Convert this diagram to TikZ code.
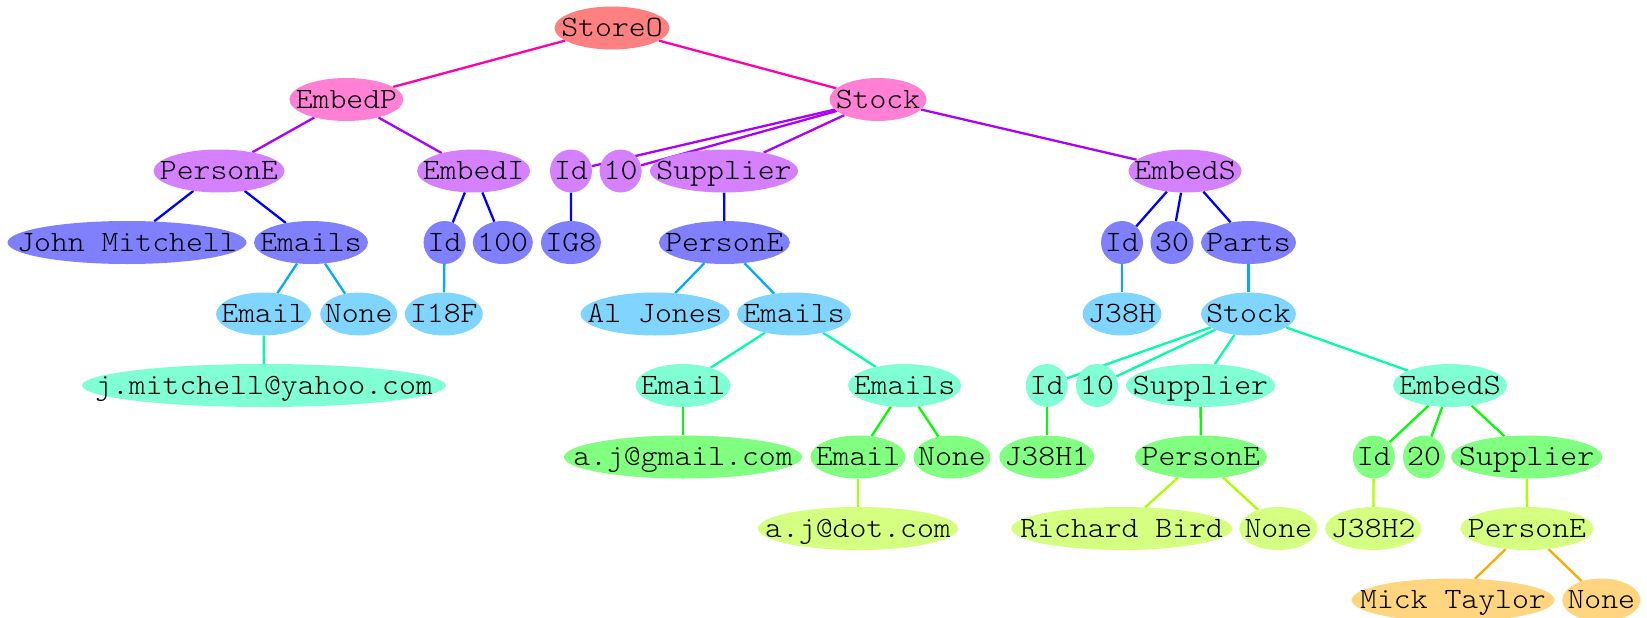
\documentclass[tikz,border=0pt]{standalone}
\usepackage{fontspec}
\newfontfamily\ndfont[FakeStretch=1.09]{Latin Modern Mono Light}
\usetikzlibrary{shapes.geometric}

% node fills, one per depth
\definecolor{c0}{HTML}{FF8080}
\definecolor{c1}{HTML}{FF80D5}
\definecolor{c2}{HTML}{D580FF}
\definecolor{c3}{HTML}{8080FF}
\definecolor{c4}{HTML}{80D5FF}
\definecolor{c5}{HTML}{80FFD5}
\definecolor{c6}{HTML}{80FF80}
\definecolor{c7}{HTML}{D5FF80}
\definecolor{c8}{HTML}{FFD580}
% edge colours, by depth of the child
\definecolor{e1}{HTML}{FF00AA}
\definecolor{e2}{HTML}{AA00FF}
\definecolor{e3}{HTML}{0000FF}
\definecolor{e4}{HTML}{00AAFF}
\definecolor{e5}{HTML}{00FFAA}
\definecolor{e6}{HTML}{00FF00}
\definecolor{e7}{HTML}{AAFF00}
\definecolor{e8}{HTML}{FFAA00}

\pgfdeclarelayer{edges}
\pgfsetlayers{edges,main}

% label centred in its ellipse without affecting the ellipse size
\newcommand\ndtext[1]{\raisebox{-0.3em}[0pt][0pt]{\makebox[0pt]{#1}}}

\tikzset{
  nd/.style 2 args={ellipse, inner sep=0pt, minimum width=#1pt,
    minimum height=43pt, fill=#2, draw=none,
    font=\ndfont\fontsize{29.5}{31}\selectfont},
  ed/.style={line width=2.3pt, draw=#1},
}

\begin{document}
\begin{tikzpicture}[x=1pt,y=-1pt]
\useasboundingbox (0,0) rectangle (1647,618);

% depth 0
\node[nd={115}{c0}] (storeo) at (612,28) {\ndtext{StoreO}};
% depth 1
\node[nd={114}{c1}] (embedp) at (346.4,99.5) {\ndtext{EmbedP}};
\node[nd={97}{c1}]  (stock)  at (878,99.5) {\ndtext{Stock}};
% depth 2
\node[nd={131}{c2}] (personeA) at (219,171) {\ndtext{PersonE}};
\node[nd={113}{c2}] (embedi)   at (473.6,171) {\ndtext{EmbedI}};
\node[nd={42}{c2}]  (idA)      at (571,171) {\ndtext{Id}};
\node[nd={42}{c2}]  (tenA)     at (620.6,171) {\ndtext{10}};
\node[nd={148}{c2}] (supplA)   at (724,171) {\ndtext{Supplier}};
\node[nd={113}{c2}] (embedsA)  at (1185,171) {\ndtext{EmbedS}};
% depth 3
\node[nd={239}{c3}] (john)     at (127,242.5) {\ndtext{John Mitchell}};
\node[nd={114}{c3}] (emailsA)  at (311,242.5) {\ndtext{Emails}};
\node[nd={42}{c3}]  (idB)      at (444.6,242.5) {\ndtext{Id}};
\node[nd={60}{c3}]  (hundred)  at (502.8,242.5) {\ndtext{100}};
\node[nd={60}{c3}]  (ig8)      at (570.9,242.5) {\ndtext{IG8}};
\node[nd={131}{c3}] (personeB) at (724.4,242.5) {\ndtext{PersonE}};
\node[nd={42}{c3}]  (idC)      at (1122,242.5) {\ndtext{Id}};
\node[nd={43}{c3}]  (thirty)   at (1172,242.5) {\ndtext{30}};
\node[nd={95}{c3}]  (parts)    at (1248.5,242.5) {\ndtext{Parts}};
% depth 4
\node[nd={95}{c4}]  (emailA)   at (263.6,314) {\ndtext{Email}};
\node[nd={77}{c4}]  (noneA)    at (358.7,314) {\ndtext{None}};
\node[nd={78}{c4}]  (i18f)     at (443.8,314) {\ndtext{I18F}};
\node[nd={149}{c4}] (aljones)  at (655,314) {\ndtext{Al Jones}};
\node[nd={114}{c4}] (emailsB)  at (794,314) {\ndtext{Emails}};
\node[nd={79}{c4}]  (j38h)     at (1122,314) {\ndtext{J38H}};
\node[nd={95}{c4}]  (stockB)   at (1248.5,314) {\ndtext{Stock}};
% depth 5
\node[nd={364}{c5}] (jmail)    at (264,385.5) {\ndtext{j.mitchell@yahoo.com}};
\node[nd={95}{c5}]  (emailB)   at (683,385.5) {\ndtext{Email}};
\node[nd={113}{c5}] (emailsC)  at (904.6,385.5) {\ndtext{Emails}};
\node[nd={42}{c5}]  (idD)      at (1046.8,385.5) {\ndtext{Id}};
\node[nd={42}{c5}]  (tenB)     at (1097,385.5) {\ndtext{10}};
\node[nd={149}{c5}] (supplB)   at (1200.5,385.5) {\ndtext{Supplier}};
\node[nd={114}{c5}] (embedsB)  at (1450,385.5) {\ndtext{EmbedS}};
% depth 6
\node[nd={238}{c6}] (gmail)    at (683,457) {\ndtext{a.j@gmail.com}};
\node[nd={95}{c6}]  (emailC)   at (858,457) {\ndtext{Email}};
\node[nd={77}{c6}]  (noneB)    at (952,457) {\ndtext{None}};
\node[nd={95}{c6}]  (j38ha)    at (1046.8,457) {\ndtext{J38H1}};
\node[nd={132}{c6}] (personeC) at (1200.8,457) {\ndtext{PersonE}};
\node[nd={42}{c6}]  (idE)      at (1373.8,457) {\ndtext{Id}};
\node[nd={42}{c6}]  (twenty)   at (1424,457) {\ndtext{20}};
\node[nd={151}{c6}] (supplC)   at (1526.7,457) {\ndtext{Supplier}};
% depth 7
\node[nd={200}{c7}] (dotcom)   at (858,528.5) {\ndtext{a.j@dot.com}};
\node[nd={221}{c7}] (richard)  at (1121.7,528.5) {\ndtext{Richard Bird}};
\node[nd={78}{c7}]  (noneC)    at (1278.3,528.5) {\ndtext{None}};
\node[nd={96}{c7}]  (j38hb)    at (1373.2,528.5) {\ndtext{J38H2}};
\node[nd={133}{c7}] (personeD) at (1527,528.5) {\ndtext{PersonE}};
% depth 8
\node[nd={203}{c8}] (mick)     at (1453,600) {\ndtext{Mick Taylor}};
\node[nd={78}{c8}]  (noneD)    at (1601.3,600) {\ndtext{None}};

\begin{pgfonlayer}{edges}
  \draw[ed=e1] (storeo) -- (embedp);
  \draw[ed=e1] (storeo) -- (stock);

  \draw[ed=e2] (embedp) -- (personeA);
  \draw[ed=e2] (embedp) -- (embedi);
  \draw[ed=e2] (stock) -- (idA);
  \draw[ed=e2] (stock) -- (tenA);
  \draw[ed=e2] (stock) -- (supplA);
  \draw[ed=e2] (stock) -- (embedsA);

  \draw[ed=e3] (personeA) -- (john);
  \draw[ed=e3] (personeA) -- (emailsA);
  \draw[ed=e3] (embedi) -- (idB);
  \draw[ed=e3] (embedi) -- (hundred);
  \draw[ed=e3] (idA) -- (ig8);
  \draw[ed=e3] (supplA) -- (personeB);
  \draw[ed=e3] (embedsA) -- (idC);
  \draw[ed=e3] (embedsA) -- (thirty);
  \draw[ed=e3] (embedsA) -- (parts);

  \draw[ed=e4] (emailsA) -- (emailA);
  \draw[ed=e4] (emailsA) -- (noneA);
  \draw[ed=e4] (idB) -- (i18f);
  \draw[ed=e4] (personeB) -- (aljones);
  \draw[ed=e4] (personeB) -- (emailsB);
  \draw[ed=e4] (idC) -- (j38h);
  \draw[ed=e4] (parts) -- (stockB);

  \draw[ed=e5] (emailA) -- (jmail);
  \draw[ed=e5] (emailsB) -- (emailB);
  \draw[ed=e5] (emailsB) -- (emailsC);
  \draw[ed=e5] (stockB) -- (idD);
  \draw[ed=e5] (stockB) -- (tenB);
  \draw[ed=e5] (stockB) -- (supplB);
  \draw[ed=e5] (stockB) -- (embedsB);

  \draw[ed=e6] (emailB) -- (gmail);
  \draw[ed=e6] (emailsC) -- (emailC);
  \draw[ed=e6] (emailsC) -- (noneB);
  \draw[ed=e6] (idD) -- (j38ha);
  \draw[ed=e6] (supplB) -- (personeC);
  \draw[ed=e6] (embedsB) -- (idE);
  \draw[ed=e6] (embedsB) -- (twenty);
  \draw[ed=e6] (embedsB) -- (supplC);

  \draw[ed=e7] (emailC) -- (dotcom);
  \draw[ed=e7] (personeC) -- (richard);
  \draw[ed=e7] (personeC) -- (noneC);
  \draw[ed=e7] (idE) -- (j38hb);
  \draw[ed=e7] (supplC) -- (personeD);

  \draw[ed=e8] (personeD) -- (mick);
  \draw[ed=e8] (personeD) -- (noneD);
\end{pgfonlayer}
\end{tikzpicture}
\end{document}
